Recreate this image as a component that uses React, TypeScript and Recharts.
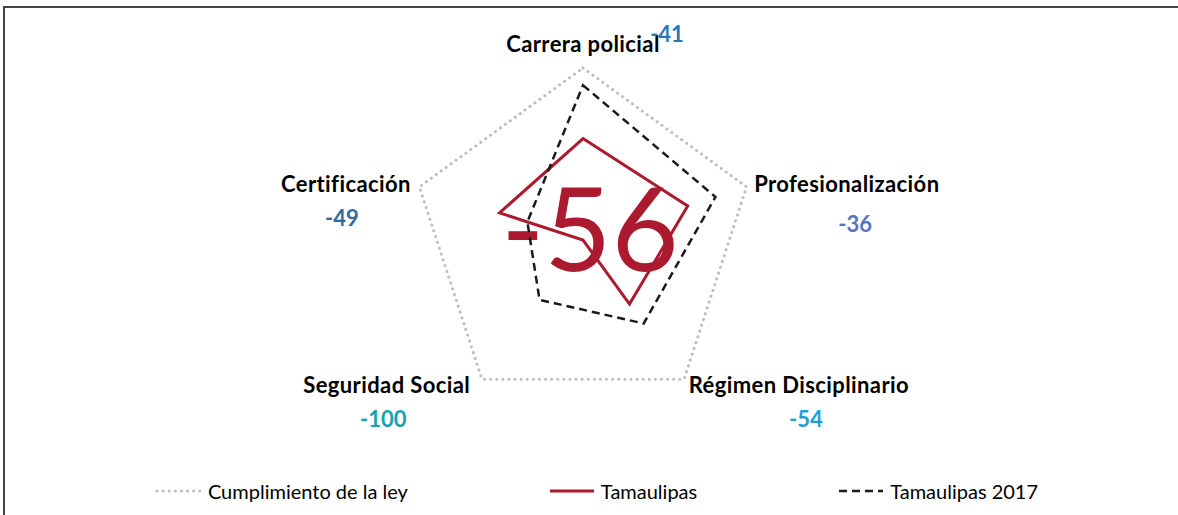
import React from 'react'
import { RadarChart, Radar, PolarAngleAxis, PolarRadiusAxis, Legend } from 'recharts'

// categorías en orden horario desde arriba
const categories = [
  'Carrera policial',
  'Profesionalización',
  'Régimen Disciplinario',
  'Seguridad Social',
  'Certificación',
]
const cumplimiento = [100, 100, 100, 100, 100]
const tamaulipas = [59, 64, 46, 0, 51]
const tamaulipas2017 = [90, 81, 60, 43, 34]
const scores = [-41, -36, -54, -100, -49]
const overallScore = -56

const scoreColors = ['#2E75B6', '#5B72C2', '#1A9FDB', '#17A3B2', '#2F6B9D']

const data = categories.map((name, i) => ({
  name,
  ley: cumplimiento[i],
  tam: tamaulipas[i],
  tam2017: tamaulipas2017[i],
}))

const CX = 583
const CY = 240
const RED = '#AB1A2E'
const FONT = 'Lato, "Open Sans", sans-serif'

// desplazamientos de las etiquetas respecto a la marca del eje
const tickLayout = [
  { anchor: 'middle', dx: 0, dy: -8, vdx: 84, vdy: -18 },
  { anchor: 'start', dx: 0, dy: 8, vdx: 101, vdy: 48 },
  { anchor: 'start', dx: 0, dy: 7, vdx: 117, vdy: 41 },
  { anchor: 'end', dx: -7, dy: 7, vdx: -94, vdy: 41 },
  { anchor: 'end', dx: -1, dy: 8, vdx: -70, vdy: 42 },
]

function AngleTick(props: any) {
  const { x, y, payload, index } = props
  const l = tickLayout[index]
  return (
    <g>
      <text
        x={x + l.dx}
        y={y + l.dy}
        textAnchor={l.anchor}
        fontFamily={FONT}
        fontWeight={700}
        fontSize={22}
        letterSpacing={0.4}
        fill="#000"
      >
        {payload.value}
      </text>
      <text
        x={x + l.vdx}
        y={y + l.vdy}
        textAnchor="middle"
        fontFamily={FONT}
        fontWeight={700}
        fontSize={22}
        fill={scoreColors[index]}
      >
        {scores[index]}
      </text>
    </g>
  )
}

function LegendContent(props: any) {
  const { payload = [] } = props
  return (
    <div
      style={{
        display: 'flex',
        justifyContent: 'center',
        gap: 140,
        paddingLeft: 15,
        fontFamily: FONT,
        fontSize: 20,
        color: '#000',
        lineHeight: '26px',
      }}
    >
      {payload.map((item: any) => {
        const p = item.payload || {}
        return (
          <div key={item.value} style={{ display: 'flex', alignItems: 'center' }}>
            <svg width={48} height={10} style={{ marginRight: 5 }}>
              <line
                x1={2}
                y1={5}
                x2={46}
                y2={5}
                stroke={p.stroke}
                strokeWidth={p.strokeWidth}
                strokeDasharray={p.strokeDasharray}
                strokeLinecap={p.strokeLinecap}
              />
            </svg>
            <span>{item.value}</span>
          </div>
        )
      })}
    </div>
  )
}

export default function App() {
  return (
    <div
      style={{
        position: 'absolute',
        left: 0,
        top: 0,
        width: 1178,
        height: 515,
        overflow: 'hidden',
        background: '#fff',
      }}
    >
      <div
        style={{
          position: 'absolute',
          left: 3,
          top: 6,
          width: 1200,
          height: 530,
          borderTop: '2px solid #454545',
          borderLeft: '2px solid #454545',
        }}
      />
      <div style={{ position: 'absolute', left: 0, top: 0 }}>
        <RadarChart width={1178} height={515} data={data} cx={CX} cy={CY} outerRadius={172}>
          <text
            x={CX + 7}
            y={CY + 31}
            textAnchor="middle"
            fontFamily={FONT}
            fontSize={116}
            fill={RED}
          >
            {overallScore}
          </text>
          <PolarAngleAxis dataKey="name" tick={<AngleTick />} tickLine={false} axisLine={false} />
          <PolarRadiusAxis domain={[0, 100]} tick={false} axisLine={false} />
          <Radar
            name="Cumplimiento de la ley"
            dataKey="ley"
            stroke="#BDBDBD"
            strokeWidth={3}
            strokeDasharray="0.1 6"
            strokeLinecap="round"
            fill="none"
            fillOpacity={0}
            dot={false}
            isAnimationActive={false}
          />
          <Radar
            name="Tamaulipas"
            dataKey="tam"
            stroke={RED}
            strokeWidth={3}
            fill="none"
            fillOpacity={0}
            dot={false}
            isAnimationActive={false}
          />
          <Radar
            name="Tamaulipas 2017"
            dataKey="tam2017"
            stroke="#1A1A1A"
            strokeWidth={2.5}
            strokeDasharray="8 5"
            fill="none"
            fillOpacity={0}
            dot={false}
            isAnimationActive={false}
          />
          <Legend
            content={<LegendContent />}
            wrapperStyle={{ top: 478, left: 0, width: 1178 }}
          />
        </RadarChart>
      </div>
    </div>
  )
}
